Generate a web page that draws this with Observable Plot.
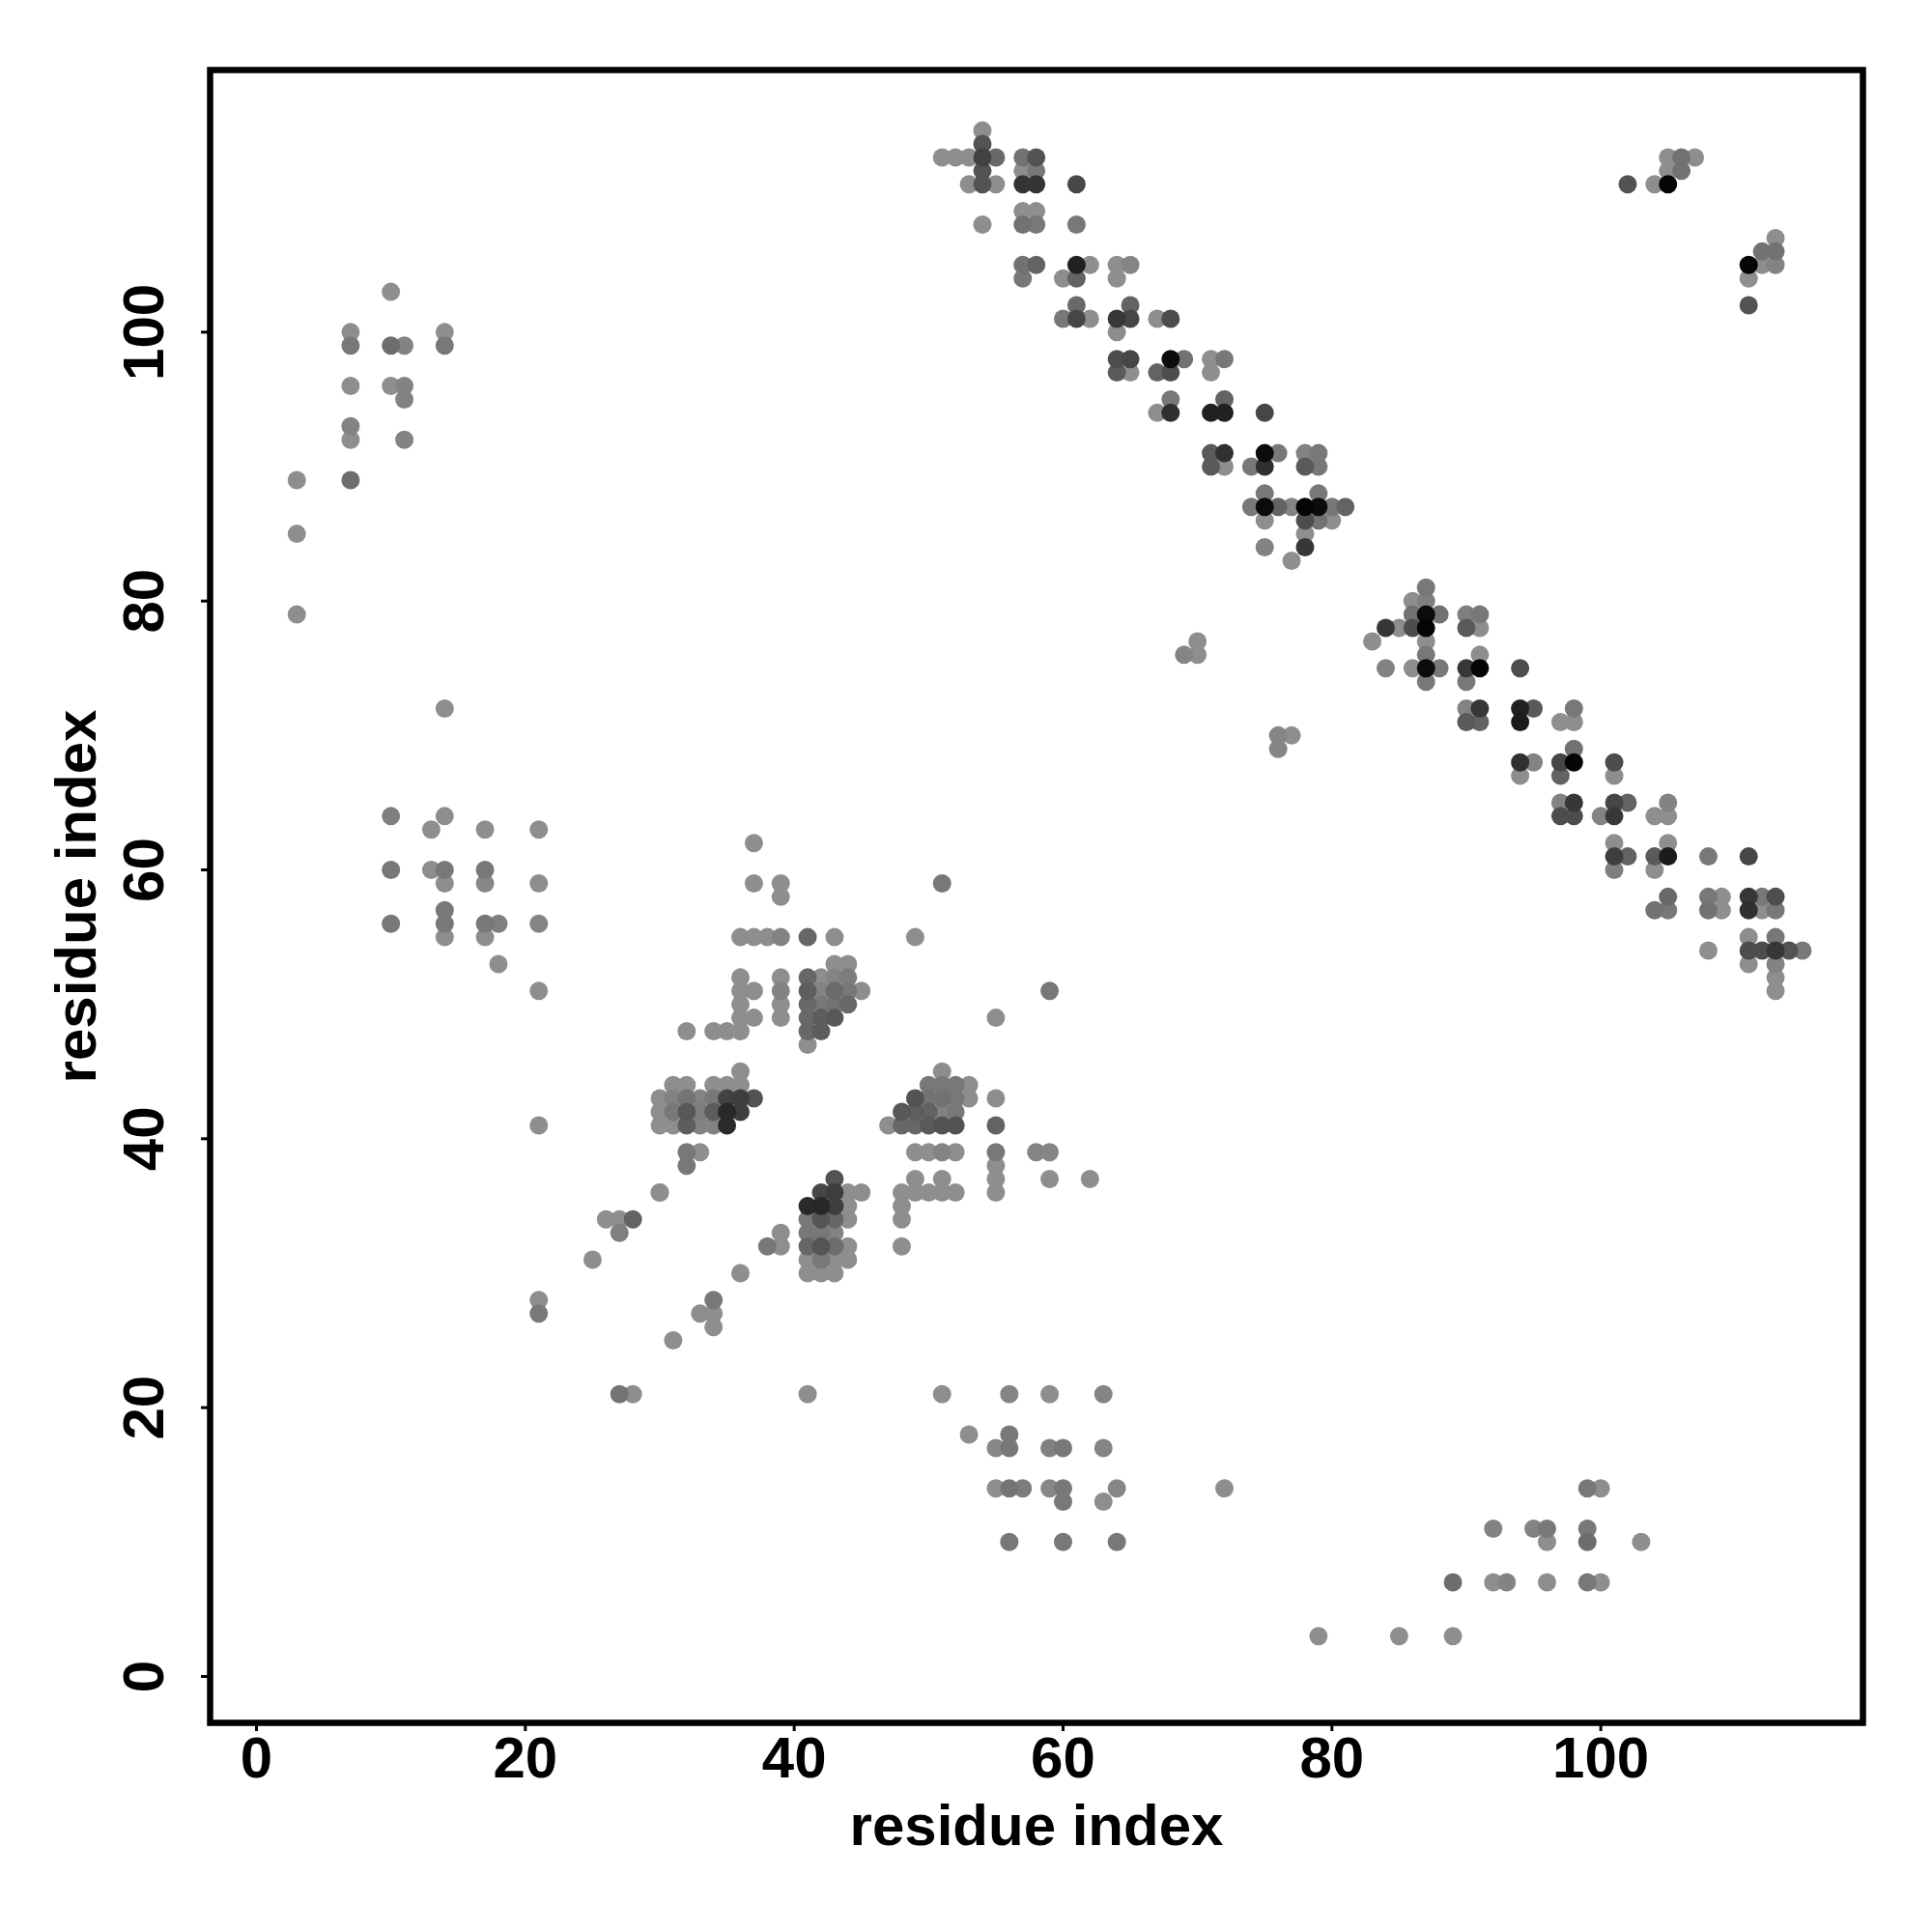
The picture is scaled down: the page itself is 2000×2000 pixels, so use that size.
<!DOCTYPE html>
<html>
<head>
<meta charset="utf-8">
<style>html,body{margin:0;padding:0;background:#fff}svg{display:block}</style>
<script src="https://cdn.jsdelivr.net/npm/d3@7"></script>
<script src="https://cdn.jsdelivr.net/npm/@observablehq/plot@0.6"></script>
</head>
<body>
<div id="chart"></div>
<script>
// [residue x, residue y, contact strength]
const farUpperLeft = [[3,79,0],[3,85,0],[3,89,0],[7,89,1.5],[7,92,0],[7,93,.5],[7,96,0],[7,99,1],[7,100,0],[10,96,0],[10,99,1.5],[10,103,0],[11,92,.5],[11,95,.5],[11,96,.5],[11,99,.5],[14,99,1],[14,100,0]];
const farLowerRight = [[79,3,0],[85,3,0],[89,3,0],[89,7,1.5],[92,7,0],[93,7,.5],[96,7,0],[99,7,1],[100,7,0],[92,11,.5],[95,11,.5],[96,11,1],[99,11,1],[96,10,0],[99,10,1.5],[103,10,0],[99,14,1],[100,14,0]];
const midLeft = [[14,72,0],[10,64,.7],[10,60,1],[10,56,1],[13,63,0],[13,60,0],[14,64,0],[14,60,1],[14,59,0],[14,57,1],[14,56,1],[14,55,0],[17,63,0],[17,60,1],[17,59,.3],[17,56,1],[17,55,0],[18,56,.7],[18,53,0],[21,63,0],[21,59,0],[21,56,.4],[21,51,0],[21,41,0],[21,28,0],[21,27,1]];
const midLower = [[27,21,1.2],[28,21,0],[41,21,0],[51,21,0],[53,18,0],[56,21,.4],[59,21,0],[63,21,.4],[56,18,1],[55,17,.3],[56,17,1],[59,17,.6],[60,17,1],[63,17,.4],[55,14,0],[56,14,1.2],[57,14,.8],[59,14,.3],[60,14,1],[64,14,.3],[72,14,0],[60,13,1],[63,13,0],[56,10,1],[60,10,1],[64,10,1]];
const blockA = [[36,55,0],[37,55,0],[38,55,0],[39,55,.5],[41,55,1.8],[43,55,0],[49,55,0],[51,59,1],[37,62,0],[37,59,0],[39,59,0],[39,58,0],[43,53,0],[44,53,0],[36,52,0],[39,52,0],[41,52,1.8],[42,52,0],[43,52,.5],[44,52,.8],[36,51,0],[37,51,0],[39,51,.5],[41,51,2.2],[42,51,.5],[43,51,1.6],[44,51,1],[45,51,0],[36,50,0],[39,50,0],[41,50,1.7],[42,50,1],[43,50,1.3],[44,50,1.7],[36,49,0],[37,49,0],[39,49,0],[41,49,1.7],[42,49,2.2],[43,49,2.5],[32,48,0],[34,48,0],[35,48,0],[36,48,0],[41,48,1.8],[42,48,2.3],[41,47,0],[55,49,0],[59,51,1]];
const blockB = [[36,45,0],[51,45,0],[31,44,0],[32,44,0],[34,44,0],[35,44,0],[36,44,0],[50,44,1],[51,44,1],[52,44,1],[53,44,0],[30,43,0],[31,43,.5],[32,43,1.2],[33,43,.5],[34,43,1],[35,43,3.5],[36,43,3.7],[37,43,2.7],[49,43,2.7],[50,43,1.3],[51,43,1.3],[52,43,1],[53,43,0],[55,43,0],[30,42,0],[31,42,1],[32,42,2.5],[33,42,.8],[34,42,2.3],[35,42,4.7],[36,42,3.7],[48,42,2.5],[49,42,2.2],[50,42,2],[51,42,.5],[52,42,1],[30,41,0],[31,41,0],[32,41,2.2],[33,41,.5],[34,41,.5],[35,41,4.6],[47,41,0],[48,41,1.8],[49,41,1.8],[50,41,2.4],[51,41,2.7],[52,41,2.7],[55,41,2],[32,39,1],[33,39,0],[49,39,0],[50,39,0],[51,39,.5],[52,39,0],[55,39,1],[58,39,.4],[59,39,.4],[32,38,1],[55,38,0],[43,37,2.7],[49,37,0],[51,37,0],[55,37,0],[59,37,0],[30,36,0],[42,36,3.3],[43,36,3.7],[44,36,0],[45,36,0],[48,36,0],[49,36,0],[50,36,0],[51,36,0],[52,36,0],[55,36,0],[62,37,0]];
const blockC = [[41,35,4.6],[42,35,4.7],[43,35,3.7],[44,35,0],[48,35,0],[26,34,0],[27,34,0],[28,34,2],[41,34,1],[42,34,2.6],[43,34,1.8],[44,34,0],[48,34,0],[27,33,.7],[39,33,0],[41,33,1],[42,33,1],[43,33,.5],[38,32,1],[39,32,0],[41,32,1.8],[42,32,2.6],[43,32,1.5],[44,32,0],[48,32,0],[41,31,0],[42,31,1],[43,31,0],[44,31,0],[25,31,0],[36,30,0],[41,30,0],[42,30,0],[43,30,0],[30,36,0],[31,25,0],[34,28,1],[33,27,0],[34,27,0],[34,26,0]];
const hairpinTop = [[54,115,0],[54,114,2.7],[51,113,0],[52,113,0],[53,113,0],[54,113,3.5],[55,113,1.7],[57,113,1.3],[58,113,2.7],[54,112,2.7],[57,112,0],[58,112,1],[53,111,0],[54,111,2.7],[55,111,0],[57,111,4.1],[58,111,4.1],[61,111,3.2],[57,109,0],[58,109,0],[54,108,0],[57,108,1.3],[58,108,1],[61,108,1],[57,105,1.3],[58,105,2],[61,105,5],[62,105,0],[64,105,0],[65,105,.4],[57,104,1],[60,104,0],[61,104,2],[64,104,0],[61,102,1.7],[65,102,2],[60,101,1],[61,101,3.3],[62,101,0],[64,101,4],[65,101,3.3],[67,101,0],[68,101,3],[64,100,0],[64,98,3],[65,98,3.3],[68,98,6],[69,98,1.3],[71,98,0],[72,98,1],[64,97,2.4],[65,97,0],[67,97,2],[68,97,3],[71,97,0],[68,95,1],[72,95,2],[67,94,0],[68,94,4.3],[71,94,5],[72,94,5],[75,94,3.3]];
const hairpinMid = [[71,91,2.4],[72,91,4.3],[75,91,6],[76,91,1],[78,91,.5],[79,91,1],[71,90,2.4],[72,90,0],[74,90,1],[75,90,4.3],[78,90,2.4],[79,90,1],[75,88,1],[79,88,1],[74,87,1],[75,87,6],[76,87,2],[77,87,.5],[78,87,6.3],[79,87,6],[80,87,1],[81,87,2],[75,86,0],[78,86,3],[79,86,1.3],[80,86,0],[78,85,0],[75,84,.5],[78,84,4],[77,83,0],[87,81,1],[86,80,0],[87,80,.7],[86,79,1.3],[87,79,6],[88,79,1.3],[90,79,.7],[91,79,1],[84,78,4],[85,78,0],[86,78,3],[87,78,6.3],[90,78,2.4],[91,78,0],[83,77,0],[87,77,0],[69,76,.4],[70,76,0],[70,77,0],[87,76,1],[91,76,0],[84,75,.5],[86,75,0],[87,75,6],[88,75,1],[90,75,4],[91,75,6.3],[94,75,3],[87,74,1],[90,74,1],[90,72,.5],[91,72,4],[94,72,5],[95,72,2.4],[98,72,1],[90,71,2.4],[91,71,2],[94,71,5.3],[97,71,0],[98,71,0],[76,70,.4],[77,70,0],[76,69,.4],[98,69,1.3]];
const hairpinEnd = [[94,68,4.3],[95,68,.5],[97,68,3.3],[98,68,6.3],[101,68,3],[94,67,0],[97,67,2],[101,67,0],[97,65,.5],[98,65,4],[101,65,3.3],[102,65,2],[105,65,.5],[97,64,3],[98,64,3],[100,64,.5],[101,64,4],[104,64,0],[105,64,0],[101,62,0],[105,62,0],[101,61,3.7],[102,61,2],[104,61,2.4],[105,61,5.3],[108,61,1],[111,61,3.3],[101,60,.7],[104,60,0],[105,58,1.7],[108,58,1],[109,58,0],[111,58,4],[112,58,1],[113,58,3],[104,57,1.3],[105,57,1],[108,57,1.3],[109,57,0],[111,57,4.3],[112,57,0],[113,57,1],[111,55,0],[113,55,1],[108,54,0],[111,54,3],[112,54,3],[113,54,4],[114,54,2.7],[115,54,1],[111,53,0],[113,53,.5],[113,52,0],[113,51,0]];
const cornerPoints = [[102,111,2.7],[104,111,0],[105,111,6.3],[105,112,0],[106,112,1.3],[105,113,0],[106,113,1.3],[107,113,0],[113,107,0],[112,106,1.3],[113,106,1.3],[111,105,6.3],[112,105,0],[113,105,.5],[111,104,0],[111,102,2.7]];

const tickValues = [0, 20, 40, 60, 80, 100];
const axisName = "residue index";

const contacts = [farUpperLeft, farLowerRight, midLeft, midLower, blockA, blockB, blockC, hairpinTop, hairpinMid, hairpinEnd, cornerPoints]
  .flat()
  .map(([x, y, strength]) => ({x, y, strength}));

const chart = Plot.plot({
  width: 2000, height: 2000,
  marginLeft: 217, marginRight: 72, marginTop: 72, marginBottom: 217,
  style: {fontFamily: "'Liberation Sans', Arial, sans-serif", fontWeight: "bold", fontSize: "60px", background: "#fff", color: "#000"},
  x: {domain: [-3.45, 119.5]},
  y: {domain: [-3.45, 119.5]},
  color: {type: "linear", domain: [0, 6.3], range: ["#8e8e8e", "#050505"]},
  marks: [
    Plot.dot(contacts, {x: "x", y: "y", r: 9.5, fill: "strength", sort: "strength"}),
    Plot.frame({stroke: "#000", strokeWidth: 6.5}),
    Plot.axisX({ticks: tickValues, tickSize: 9, tickPadding: 5, strokeWidth: 3, fontSize: 60, fontWeight: "bold",
      label: axisName, labelAnchor: "center", labelArrow: "none", labelOffset: 126}),
    Plot.axisY({ticks: tickValues, tickSize: 9, tickPadding: 40, strokeWidth: 3, fontSize: 60, fontWeight: "bold", tickRotate: -90,
      label: axisName, labelAnchor: "center", labelArrow: "none", labelOffset: 161})
  ]
});
document.getElementById("chart").append(chart);
</script>
</body>
</html>
